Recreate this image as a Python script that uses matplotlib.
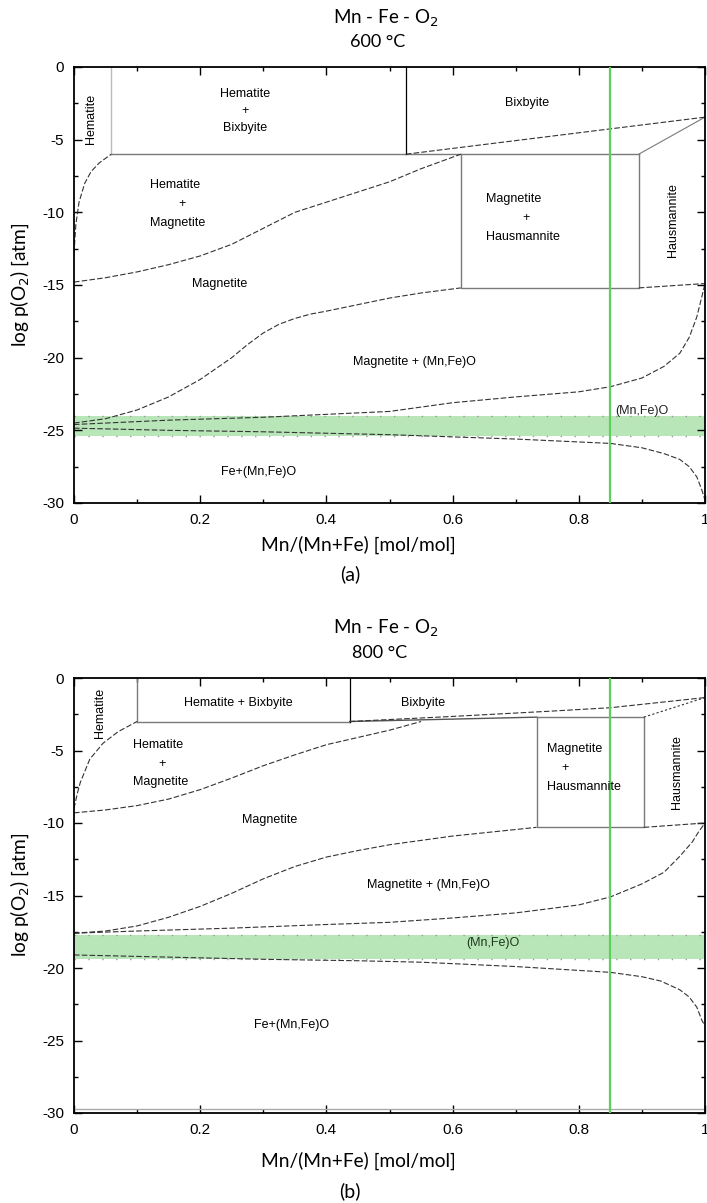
import numpy as np
import matplotlib.pyplot as plt
from matplotlib.ticker import MultipleLocator

plt.rcParams['axes.unicode_minus'] = False

# ---- 600 C phase boundaries ----
t600_hem_x = [0.0, 0.003, 0.008, 0.017, 0.027, 0.04, 0.059]
t600_hem_y = [-12.8, -10.8, -9.3, -8.0, -7.2, -6.6, -6.0]
t600_hm_x = [0, 0.05, 0.1, 0.15, 0.2, 0.25, 0.3, 0.35, 0.4, 0.45, 0.5, 0.55, 0.613]
t600_hm_y = [-14.8, -14.5, -14.1, -13.6, -13.0, -12.2, -11.1, -10.0, -9.3, -8.6, -7.9, -7.0, -6.0]
t600_mag_x = [0, 0.05, 0.1, 0.15, 0.2, 0.25, 0.275, 0.3, 0.325, 0.35, 0.375, 0.4, 0.45, 0.5, 0.55, 0.613]
t600_mag_y = [-24.5, -24.2, -23.6, -22.7, -21.5, -20.0, -19.1, -18.3, -17.7, -17.3, -17.0, -16.8, -16.35, -15.9, -15.55, -15.2]
t600_mw_x = [0, 0.15, 0.3, 0.4, 0.5, 0.6, 0.7, 0.8, 0.85, 0.9, 0.935, 0.96, 0.975, 0.987, 0.995, 1.0]
t600_mw_y = [-24.6, -24.3, -24.1, -23.9, -23.7, -23.1, -22.7, -22.35, -22.0, -21.4, -20.6, -19.7, -18.6, -17.2, -15.8, -14.9]
t600_wf_x = [0, 0.15, 0.3, 0.5, 0.6, 0.7, 0.8, 0.85, 0.9, 0.935, 0.96, 0.975, 0.987, 0.995, 1.0]
t600_wf_y = [-24.85, -25.0, -25.1, -25.3, -25.45, -25.6, -25.8, -25.9, -26.2, -26.6, -27.0, -27.5, -28.2, -29.1, -29.8]
t600_bix_x = [0.526, 1.0]
t600_bix_y = [-6.0, -3.45]
t600_band = (-25.4, -24.0)

# ---- 800 C phase boundaries ----
t800_hem_x = [0.0, 0.005, 0.01, 0.025, 0.046, 0.07, 0.1]
t800_hem_y = [-9.0, -8.0, -7.2, -5.6, -4.5, -3.7, -3.0]
t800_hm_x = [0, 0.05, 0.1, 0.15, 0.2, 0.25, 0.3, 0.35, 0.4, 0.45, 0.5, 0.55]
t800_hm_y = [-9.3, -9.1, -8.8, -8.35, -7.7, -6.9, -6.05, -5.3, -4.6, -4.1, -3.6, -3.0]
t800_mag_x = [0, 0.05, 0.1, 0.15, 0.2, 0.25, 0.3, 0.35, 0.4, 0.45, 0.5, 0.6, 0.733]
t800_mag_y = [-17.6, -17.45, -17.1, -16.5, -15.75, -14.85, -13.85, -13.0, -12.35, -11.9, -11.5, -10.9, -10.3]
t800_mw_x = [0, 0.1, 0.25, 0.4, 0.5, 0.6, 0.7, 0.8, 0.85, 0.9, 0.935, 0.96, 0.98, 0.99, 1.0]
t800_mw_y = [-17.6, -17.45, -17.25, -17.0, -16.85, -16.55, -16.2, -15.65, -15.1, -14.2, -13.4, -12.3, -11.3, -10.6, -10.0]
t800_wf_x = [0, 0.15, 0.3, 0.45, 0.55, 0.7, 0.85, 0.9, 0.93, 0.96, 0.975, 0.987, 0.995, 1.0]
t800_wf_y = [-19.1, -19.25, -19.4, -19.5, -19.6, -19.9, -20.3, -20.6, -20.9, -21.5, -22.0, -22.7, -23.6, -24.0]
t800_bix_x = [0.437, 0.6, 0.75, 0.85, 1.0]
t800_bix_y = [-3.0, -2.65, -2.3, -2.05, -1.35]
t800_band = (-19.4, -17.7)

composition = 0.85
xticks = [0, 0.2, 0.4, 0.6, 0.8, 1.0]
xtick_labels = ['0', '0.2', '0.4', '0.6', '0.8', '1']

BOX = '#7a7a7a'
CURVE = '#333333'
DASH = (0, (5, 2))
LAB = 'Liberation Sans'
HEAD = 'Lato'

fig = plt.figure(figsize=(7.07, 12.03), dpi=100)


def px(x, y):
    return x / 707, 1 - y / 1203


def setup(ax):
    ax.set_xlim(0, 1)
    ax.set_ylim(-30, 0)
    ax.set_xticks(xticks)
    ax.set_xticklabels(xtick_labels)
    ax.xaxis.set_minor_locator(MultipleLocator(0.1))
    ax.yaxis.set_major_locator(MultipleLocator(5))
    ax.yaxis.set_minor_locator(MultipleLocator(2.5))
    ax.tick_params(which='both', direction='in', top=True, right=True, width=1)
    ax.tick_params(which='major', length=6, labelsize=11, pad=7)
    ax.tick_params(which='minor', length=3)
    for lbl in ax.get_xticklabels() + ax.get_yticklabels():
        lbl.set_fontfamily(LAB)
    for s in ax.spines.values():
        s.set_linewidth(1.3)


def band(ax, lo, hi):
    ax.axhspan(lo, hi, color='#b9e6b9', lw=0, zorder=0)
    for yv in (lo, hi):
        ax.axhline(yv, color='#999999', lw=1, ls=(0, (1, 9)), zorder=1)
    ax.axvline(composition, color='#5ccf5c', lw=1.6, zorder=3)


def curve(ax, x, y):
    ax.plot(x, y, color=CURVE, lw=0.8, ls=DASH, zorder=2)


def stacked(ax, x, y, top, bottom, plus_x, gap=1.3):
    kw = dict(fontsize=9, family=LAB, va='center')
    ax.text(x, y + gap, top, ha='left', **kw)
    ax.text(plus_x, y, '+', ha='center', **kw)
    ax.text(x, y - gap, bottom, ha='left', **kw)


def labels(ycenter, xlab_y, tag_y, tag):
    fig.text(*px(20, ycenter), 'log p(O$_2$) [atm]', fontsize=13.8, family=HEAD,
             rotation=90, ha='center', va='center')
    fig.text(*px(358, xlab_y), 'Mn/(Mn+Fe) [mol/mol]', fontsize=13.8, family=HEAD,
             ha='center', va='center')
    fig.text(*px(350, tag_y), tag, fontsize=14, family=HEAD, ha='center', va='center')


kw = dict(fontsize=9, family=LAB, ha='center', va='center')

# ---------------- (a) 600 C ----------------
ax1 = fig.add_axes([74 / 707, 1 - 503 / 1203, 631 / 707, 436 / 1203])
setup(ax1)
band(ax1, *t600_band)
ax1.plot([0.059, 0.059], [0, -6], color='#bbbbbb', lw=1)
ax1.plot([0.059, 0.895], [-6, -6], color=BOX, lw=1)
ax1.plot([0.526, 0.526], [0, -6], color='black', lw=0.9)
ax1.plot([0.613, 0.613, 0.895, 0.895], [-6, -15.2, -15.2, -6], color=BOX, lw=1)
ax1.plot([0.895, 1.0], [-6, -3.45], color=BOX, lw=0.8)
ax1.plot([0.895, 1.0], [-15.2, -14.9], color=CURVE, lw=0.8, ls=DASH)
for cx, cy in [(t600_hem_x, t600_hem_y), (t600_hm_x, t600_hm_y), (t600_mag_x, t600_mag_y),
               (t600_mw_x, t600_mw_y), (t600_wf_x, t600_wf_y), (t600_bix_x, t600_bix_y)]:
    curve(ax1, cx, cy)

ax1.text(0.027, -3.6, 'Hematite', rotation=90, **kw)
ax1.text(0.271, -3.0, 'Hematite\n+\nBixbyite', linespacing=1.55, **kw)
ax1.text(0.718, -2.5, 'Bixbyite', **kw)
stacked(ax1, 0.121, -9.4, 'Hematite', 'Magnetite', 0.171)
ax1.text(0.231, -14.9, 'Magnetite', **kw)
stacked(ax1, 0.653, -10.4, 'Magnetite', 'Hausmannite', 0.716)
ax1.text(0.95, -10.5, 'Hausmannite', rotation=90, **kw)
ax1.text(0.539, -20.3, 'Magnetite + (Mn,Fe)O', **kw)
ax1.text(0.90, -23.7, '(Mn,Fe)O', color='#222222', **kw)
ax1.text(0.292, -27.9, 'Fe+(Mn,Fe)O', **kw)

fig.text(*px(386, 18), 'Mn - Fe - O$_2$', fontsize=13.5, family=HEAD, ha='center', va='center')
fig.text(*px(378, 42), '600 °C', fontsize=13, family=HEAD, ha='center', va='center')
labels(285, 545, 574, '(a)')

# ---------------- (b) 800 C ----------------
ax2 = fig.add_axes([74 / 707, 1 - 1113 / 1203, 631 / 707, 435 / 1203])
setup(ax2)
band(ax2, *t800_band)
ax2.plot([0.1, 0.1], [0, -3], color=BOX, lw=1)
ax2.plot([0.1, 0.437], [-3, -3], color=BOX, lw=1)
ax2.plot([0.437, 0.437], [0, -3], color='black', lw=0.9)
ax2.plot([0.437, 0.733], [-3.0, -2.7], color='#555555', lw=1)
ax2.plot([0.733, 0.733, 0.903, 0.903, 0.733], [-2.7, -10.3, -10.3, -2.7, -2.7], color=BOX, lw=1)
ax2.plot([0.903, 1.0], [-2.7, -1.35], color=CURVE, lw=0.8, ls=(0, (2, 2)))
ax2.plot([0.903, 1.0], [-10.3, -10.0], color=CURVE, lw=0.8, ls=DASH)
ax2.axhline(-29.75, color='#aaaaaa', lw=1)
for cx, cy in [(t800_hem_x, t800_hem_y), (t800_hm_x, t800_hm_y), (t800_mag_x, t800_mag_y),
               (t800_mw_x, t800_mw_y), (t800_wf_x, t800_wf_y), (t800_bix_x, t800_bix_y)]:
    curve(ax2, cx, cy)

ax2.text(0.041, -2.4, 'Hematite', rotation=90, **kw)
ax2.text(0.26, -1.7, 'Hematite + Bixbyite', **kw)
ax2.text(0.553, -1.7, 'Bixbyite', **kw)
stacked(ax2, 0.093, -5.9, 'Hematite', 'Magnetite', 0.14)
ax2.text(0.31, -9.8, 'Magnetite', **kw)
stacked(ax2, 0.75, -6.2, 'Magnetite', 'Hausmannite', 0.778)
ax2.text(0.955, -6.5, 'Hausmannite', rotation=90, **kw)
ax2.text(0.561, -14.3, 'Magnetite + (Mn,Fe)O', **kw)
ax2.text(0.664, -18.3, '(Mn,Fe)O', color='#1e3a1e', **kw)
ax2.text(0.345, -23.9, 'Fe+(Mn,Fe)O', **kw)

fig.text(*px(386, 628), 'Mn - Fe - O$_2$', fontsize=13.5, family=HEAD, ha='center', va='center')
fig.text(*px(380, 653), '800 °C', fontsize=13, family=HEAD, ha='center', va='center')
labels(895, 1161, 1191, '(b)')

fig.savefig('out.png', dpi=100)
